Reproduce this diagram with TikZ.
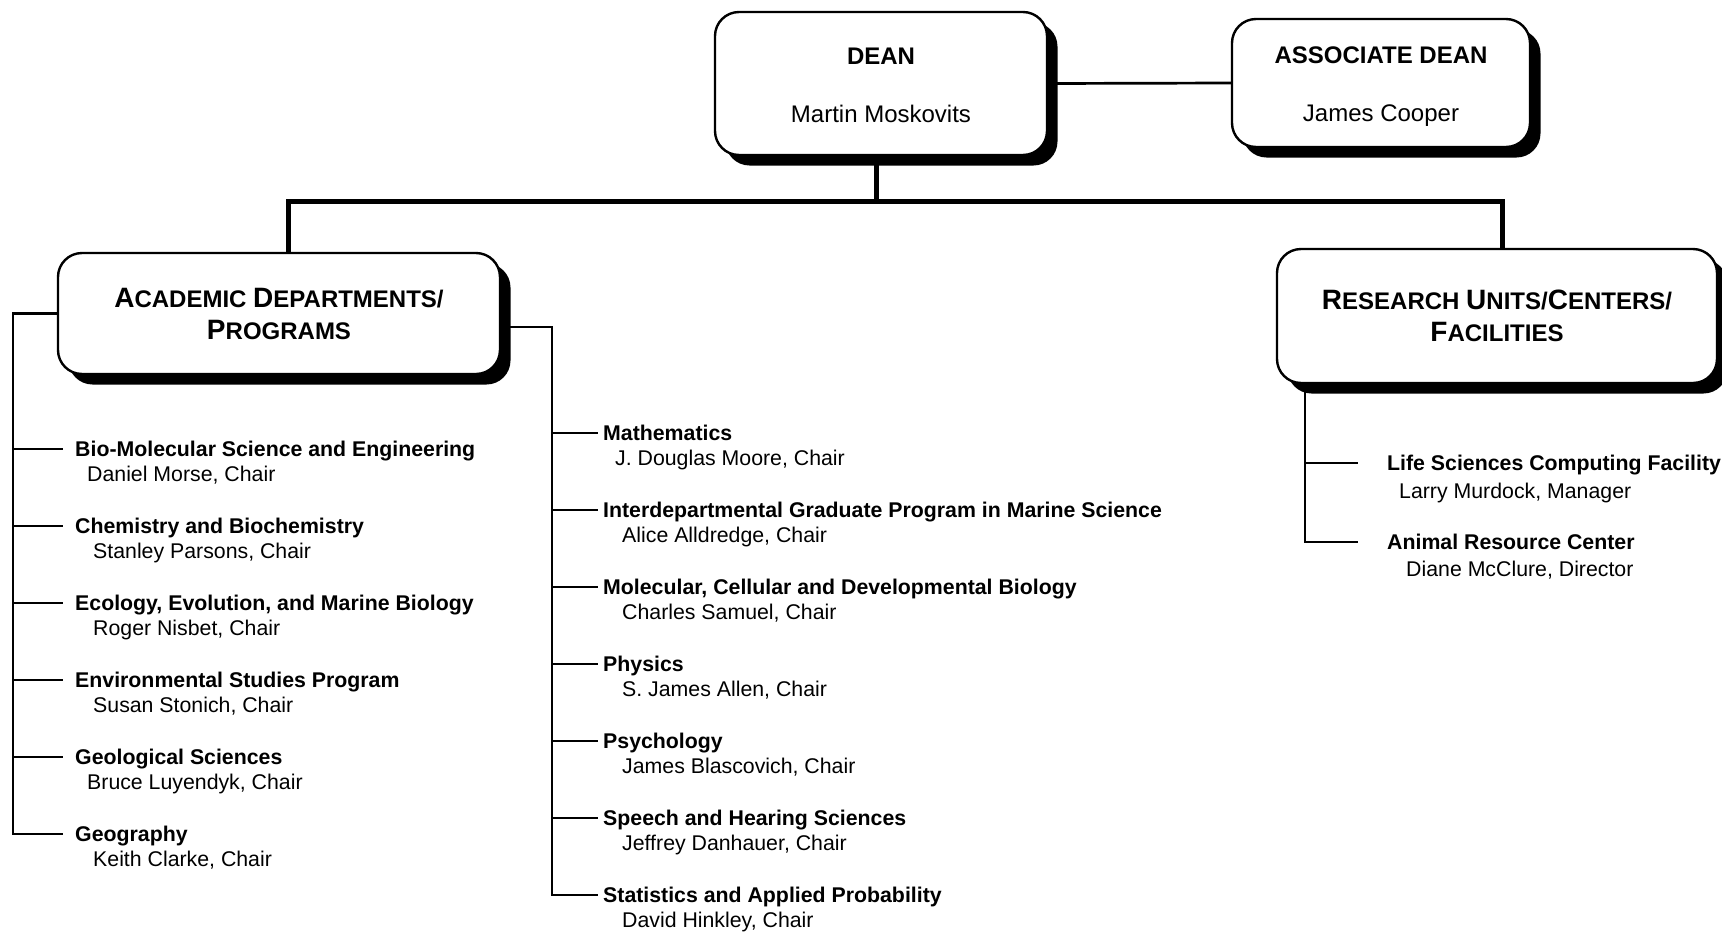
\documentclass[tikz,border=0pt]{standalone}
\usepackage{fontspec}
\setmainfont{Liberation Sans}
\usetikzlibrary{shadows}
\newcommand\initcap[1]{{\fontsize{28}{31}\selectfont #1}}
\tikzset{
 box/.style={draw, line width=2.4pt, fill=white, rounded corners=24pt, align=center,
   general shadow={fill=black, shadow xshift=10.5pt, shadow yshift=-10.5pt}},
 bus/.style={line width=5pt},
 spine/.style={line width=2.7pt},
 ttl/.style={anchor=west, inner ysep=0pt, inner xsep=12pt, text height=15pt, text depth=0pt,
   font=\bfseries\fontsize{21.3}{26}\selectfont},
 nm/.style={anchor=west, inner sep=0pt, text height=15pt, text depth=0pt,
   font=\fontsize{21.3}{26}\selectfont},
}
\begin{document}
\begin{tikzpicture}[x=1pt,y=-1pt]
\useasboundingbox (0,0) rectangle (1722,932);
% boxes
\node[box, minimum width=332pt, minimum height=143pt, font=\fontsize{24}{58}\selectfont] (dean) at (881,83.5)
  {\rule{0pt}{19.5pt}\textbf{DEAN}\\Martin Moskovits};
\node[box, minimum width=298pt, minimum height=128pt, font=\fontsize{24}{58}\selectfont] (assoc) at (1381,83)
  {\rule{0pt}{24pt}\textbf{ASSOCIATE DEAN}\\James Cooper};
\node[box, minimum width=442pt, minimum height=121pt, font=\bfseries\fontsize{24}{32}\selectfont] (acad) at (279,313.5)
  {\initcap{A}CADEMIC \initcap{D}EPARTMENTS/\\\initcap{P}ROGRAMS};
\node[box, minimum width=440pt, minimum height=134pt, font=\bfseries\fontsize{24}{32}\selectfont] (res) at (1497,316)
  {\initcap{R}ESEARCH \initcap{U}NITS/\initcap{C}ENTERS/\\\initcap{F}ACILITIES};
% top connectors
\coordinate (bus) at (876,201);
\coordinate (busL) at (288,201);
\coordinate (busR) at (1502,201);
\draw[spine] (dean.east) -- (assoc.west);
\draw[bus] (dean.south -| bus) -- (bus);
\draw[bus] (acad.north -| busL) -- (busL) -- (busR) -- (res.north -| busR);
% left column
\node[ttl] (t1) at (63,449) {Bio-Molecular Science and Engineering};
\node[nm]  (n1) at (87,474) {Daniel Morse, Chair};
\node[ttl] (t2) at (63,526) {Chemistry and Biochemistry};
\node[nm]  (n2) at (93,551) {Stanley Parsons, Chair};
\node[ttl] (t3) at (63,603) {Ecology, Evolution, and Marine Biology};
\node[nm]  (n3) at (93,628) {Roger Nisbet, Chair};
\node[ttl] (t4) at (63,680) {Environmental Studies Program};
\node[nm]  (n4) at (93,705) {Susan Stonich, Chair};
\node[ttl] (t5) at (63,757) {Geological Sciences};
\node[nm]  (n5) at (87,782) {Bruce Luyendyk, Chair};
\node[ttl] (t6) at (63,834) {Geography};
\node[nm]  (n6) at (93,859) {Keith Clarke, Chair};
\coordinate (L) at (13,834);
\draw[spine] (acad.west) -| (L) -- (t6.west);
\foreach \t in {t1,t2,t3,t4,t5} \draw[spine] (L |- \t.west) -- (\t.west);
% right column
\node[ttl, inner xsep=5pt] (r1) at (598,433) {Mathematics};
\node[nm] (m1) at (615,458) {J. Douglas Moore, Chair};
\node[ttl, inner xsep=5pt] (r2) at (598,510) {Interdepartmental Graduate Program in Marine Science};
\node[nm] (m2) at (622,535) {Alice Alldredge, Chair};
\node[ttl, inner xsep=5pt] (r3) at (598,587) {Molecular, Cellular and Developmental Biology};
\node[nm] (m3) at (622,612) {Charles Samuel, Chair};
\node[ttl, inner xsep=5pt] (r4) at (598,664) {Physics};
\node[nm] (m4) at (622,689) {S. James Allen, Chair};
\node[ttl, inner xsep=5pt] (r5) at (598,741) {Psychology};
\node[nm] (m5) at (622,766) {James Blascovich, Chair};
\node[ttl, inner xsep=5pt] (r6) at (598,818) {Speech and Hearing Sciences};
\node[nm] (m6) at (622,843) {Jeffrey Danhauer, Chair};
\node[ttl, inner xsep=5pt] (r7) at (598,895) {Statistics and Applied Probability};
\node[nm] (m7) at (622,920) {David Hinkley, Chair};
\coordinate (Rt) at (552,327);
\coordinate (Rb) at (552,895);
\draw[spine] (acad.east |- Rt) -- (Rt) -- (Rb) -- (r7.west);
\foreach \t in {r1,r2,r3,r4,r5,r6} \draw[spine] (Rt |- \t.west) -- (\t.west);
% research
\node[ttl, inner xsep=29pt] (s1) at (1358,463) {Life Sciences Computing Facility};
\node[nm] (p1) at (1399,491) {Larry Murdock, Manager};
\node[ttl, inner xsep=29pt] (s2) at (1358,542) {Animal Resource Center};
\node[nm] (p2) at (1406,569) {Diane McClure, Director};
\coordinate (S) at (1305,542);
\draw[spine] (res.south -| S) -- (S) -- (s2.west);
\draw[spine] (S |- s1.west) -- (s1.west);
\end{tikzpicture}
\end{document}
